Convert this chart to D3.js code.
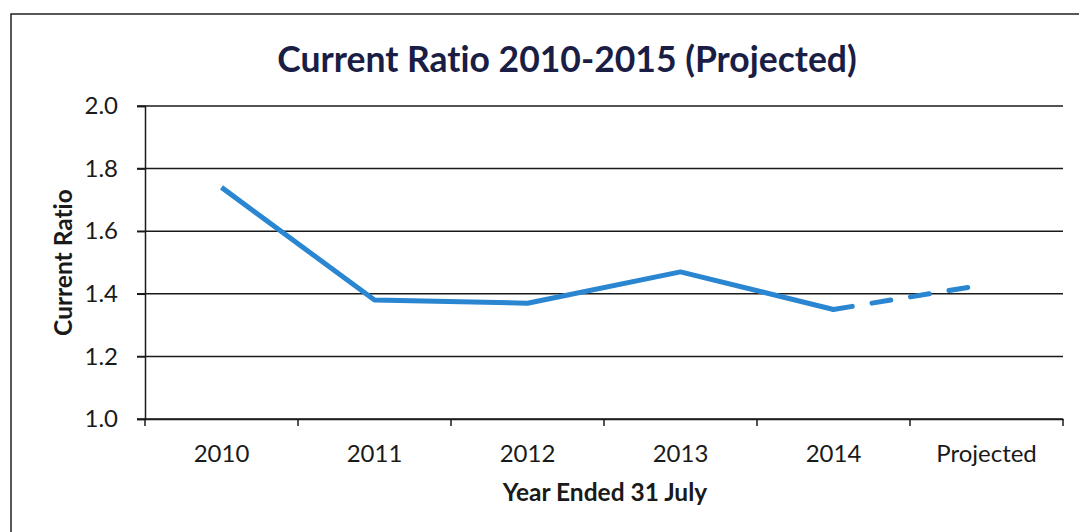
<!DOCTYPE html>
<html><head><meta charset="utf-8">
<script src="https://cdn.jsdelivr.net/npm/d3@7"></script>
<style>body{margin:0;background:#fff}svg{display:block}text{font-family:Lato,"Open Sans",sans-serif;font-variant-ligatures:none;font-feature-settings:"liga" 0}</style>
</head><body><svg id="c" width="1079" height="532"></svg>
<script>
const categories = ["2010","2011","2012","2013","2014","Projected"];
const ratios = [1.74, 1.38, 1.37, 1.47, 1.35, 1.43];
const yTicks = [1.0, 1.2, 1.4, 1.6, 1.8, 2.0];
const title = "Current Ratio 2010-2015 (Projected)";
const xTitle = "Year Ended 31 July";
const yTitle = "Current Ratio";

const svg = d3.select("#c");
const m = {left:145, right:1063, top:106, bottom:419};
const x = d3.scaleBand().domain(categories).range([m.left, m.right]);
const y = d3.scaleLinear().domain([1.0, 2.0]).range([m.bottom, m.top]);
const ink = "#1a1a1a";

// frame
svg.append("path").attr("d","M11,532V14H1079").attr("fill","none").attr("stroke","#222").attr("stroke-width",1.5);

// title
svg.append("text").attr("x",567).attr("y",72).attr("text-anchor","middle")
  .attr("font-size",35.5).attr("font-weight","bold").attr("fill","#1a1e45").text(title);

// gridlines
svg.append("g").selectAll("line").data(yTicks).join("line")
  .attr("x1",m.left-8).attr("x2",m.right).attr("y1",d=>y(d)).attr("y2",d=>y(d))
  .attr("stroke",ink).attr("stroke-width",1.5);

// y axis
const ya = svg.append("g").attr("transform",`translate(${m.left},0)`)
  .call(d3.axisLeft(y).tickValues(yTicks).tickFormat(d3.format(".1f")).tickSize(8).tickPadding(19));
ya.select(".domain").attr("stroke",ink).attr("stroke-width",1.5);
ya.selectAll(".tick line").attr("stroke",ink).attr("stroke-width",1.5);
ya.selectAll("text").attr("font-size",24).attr("fill",ink).style("font-family","Lato,'Open Sans',sans-serif");

// x axis
const xa = svg.append("g").attr("transform",`translate(0,${m.bottom})`)
  .call(d3.axisBottom(x).tickSize(0).tickPadding(26));
xa.select(".domain").attr("stroke",ink).attr("stroke-width",1.5);
xa.selectAll("text").attr("font-size",24).attr("fill",ink).style("font-family","Lato,'Open Sans',sans-serif");
const bounds = categories.map(c=>x(c)).concat([m.right]);
svg.append("g").selectAll("line").data(bounds).join("line")
  .attr("x1",d=>d).attr("x2",d=>d).attr("y1",m.bottom).attr("y2",m.bottom+7)
  .attr("stroke",ink).attr("stroke-width",1.5);

// axis titles
svg.append("text").attr("x",605).attr("y",501).attr("text-anchor","middle")
  .attr("font-size",24.5).attr("font-weight","bold").attr("fill",ink).text(xTitle);
svg.append("text").attr("transform",`translate(72,${(m.top+m.bottom)/2}) rotate(-90)`).attr("text-anchor","middle")
  .attr("font-size",24.5).attr("font-weight","bold").attr("fill",ink).text(yTitle);

// line
const pts = categories.map((c,i)=>[x(c)+x.bandwidth()/2, y(ratios[i])]);
const line = d3.line();
svg.append("path").attr("d", line(pts.slice(0,5))).attr("fill","none")
  .attr("stroke","#2a86d1").attr("stroke-width",5).attr("stroke-linejoin","round");
svg.append("path").attr("d", line(pts.slice(4,6))).attr("fill","none")
  .attr("stroke","#2a86d1").attr("stroke-width",5).attr("stroke-dasharray","19,20").attr("stroke-linecap","round");
</script></body></html>
